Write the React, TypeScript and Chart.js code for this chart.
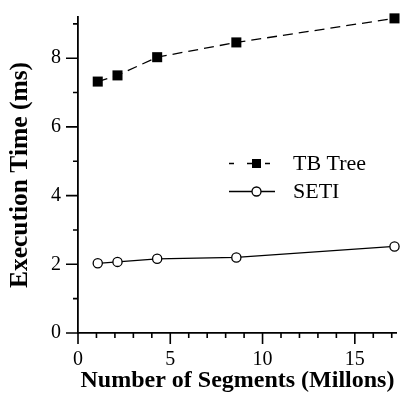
import { useEffect, useRef } from "react";
import { Chart, registerables } from "chart.js";

Chart.register(...registerables);

// Data: execution time vs. number of segments
const segmentsMillions = [1.07, 2.14, 4.29, 8.58, 17.15];
const tbTreeMs = [7.32, 7.5, 8.03, 8.46, 9.16];
const setiMs = [2.03, 2.07, 2.16, 2.2, 2.52];

const xLabelTicks = [0, 5, 10, 15];
const xMinorTicks = [1, 2, 3, 4, 6, 7, 8, 9, 11, 12, 13, 14, 16, 17];
const yLabelTicks = [0, 2, 4, 6, 8];
const yMinorTicks = [1, 3, 5, 7, 9];

const seriesNames = ["TB Tree", "SETI"];

const FONT = "'Liberation Serif', 'Times New Roman', Times, serif";
const INK = "#000";

// Outward tick marks: long at labelled values, short in between
const tickMarksPlugin = {
  id: "tickMarks",
  afterDraw(chart: any) {
    const ctx = chart.ctx;
    const x = chart.scales.x;
    const y = chart.scales.y;
    const area = chart.chartArea;
    ctx.save();
    ctx.strokeStyle = INK;
    ctx.lineWidth = 1.6;
    ctx.beginPath();
    for (const v of xLabelTicks) {
      const px = x.getPixelForValue(v);
      ctx.moveTo(px, area.bottom);
      ctx.lineTo(px, area.bottom + 11);
    }
    for (const v of xMinorTicks) {
      const px = x.getPixelForValue(v);
      ctx.moveTo(px, area.bottom);
      ctx.lineTo(px, area.bottom + 5);
    }
    for (const v of yLabelTicks) {
      const py = y.getPixelForValue(v);
      ctx.moveTo(area.left, py);
      ctx.lineTo(area.left - 12, py);
    }
    for (const v of yMinorTicks) {
      const py = y.getPixelForValue(v);
      ctx.moveTo(area.left, py);
      ctx.lineTo(area.left - 5, py);
    }
    ctx.stroke();
    ctx.restore();
  },
};

// Legend drawn inside the plot: line sample with marker, then the name
const inlineLegendPlugin = {
  id: "inlineLegend",
  afterDraw(chart: any) {
    const ctx = chart.ctx;
    const rows = [
      { y: 163.5, dash: [5, 13], square: true },
      { y: 191.5, dash: [], square: false },
    ];
    const x0 = 229;
    const x1 = 275;
    const mid = 256.5;
    ctx.save();
    rows.forEach((row, i) => {
      ctx.strokeStyle = INK;
      ctx.lineWidth = 1.3;
      ctx.setLineDash(row.dash);
      ctx.beginPath();
      ctx.moveTo(x0, row.y);
      ctx.lineTo(x1, row.y);
      ctx.stroke();
      ctx.setLineDash([]);
      if (row.square) {
        ctx.fillStyle = INK;
        ctx.fillRect(mid - 4.5, row.y - 4.5, 9, 9);
      } else {
        ctx.fillStyle = "#fff";
        ctx.beginPath();
        ctx.arc(mid, row.y, 4.5, 0, Math.PI * 2);
        ctx.fill();
        ctx.stroke();
      }
      ctx.fillStyle = INK;
      ctx.font = `22px ${FONT}`;
      ctx.textAlign = "left";
      ctx.textBaseline = "middle";
      ctx.fillText(seriesNames[i], 293, row.y + 1);
    });
    ctx.restore();
  },
};

export default function App() {
  const canvasRef = useRef<HTMLCanvasElement | null>(null);

  useEffect(() => {
    const canvas = canvasRef.current;
    if (!canvas) return;
    const chart = new Chart(canvas, {
      type: "scatter",
      data: {
        datasets: [
          {
            label: seriesNames[0],
            data: segmentsMillions.map((x, i) => ({ x, y: tbTreeMs[i] })),
            showLine: true,
            borderColor: INK,
            borderWidth: 1.3,
            borderDash: [10, 6],
            pointStyle: "rect",
            pointRadius: 7.1,
            pointBackgroundColor: INK,
            pointBorderColor: INK,
            pointBorderWidth: 0,
            clip: false as any,
          },
          {
            label: seriesNames[1],
            data: segmentsMillions.map((x, i) => ({ x, y: setiMs[i] })),
            showLine: true,
            borderColor: INK,
            borderWidth: 1.3,
            pointStyle: "circle",
            pointRadius: 4.6,
            pointBackgroundColor: "#fff",
            pointBorderColor: INK,
            pointBorderWidth: 1.3,
            clip: false as any,
          },
        ],
      },
      options: {
        animation: false,
        responsive: false,
        devicePixelRatio: 1,
        layout: { padding: { top: 8, right: 0, left: 0, bottom: 0 } },
        plugins: {
          legend: { display: false },
          tooltip: { enabled: false },
        },
        scales: {
          x: {
            type: "linear",
            min: 0,
            max: 17.28,
            afterBuildTicks: (s: any) => {
              s.ticks = xLabelTicks.map((value) => ({ value }));
            },
            afterFit: (s: any) => {
              s.height = 72;
            },
            grid: {
              display: true,
              drawOnChartArea: false,
              drawTicks: true,
              tickLength: 11,
              tickColor: "rgba(0,0,0,0)",
            },
            border: { display: true, color: INK, width: 1.8 },
            ticks: {
              color: INK,
              font: { family: FONT, size: 20 },
              padding: 4,
              maxRotation: 0,
            },
            title: {
              display: true,
              text: "Number of Segments (Millons)",
              color: INK,
              font: { family: FONT, size: 24, weight: "bold" },
              padding: { top: 0, bottom: 10 },
            },
          },
          y: {
            type: "linear",
            min: 0,
            max: 9.2,
            afterBuildTicks: (s: any) => {
              s.ticks = yLabelTicks.map((value) => ({ value }));
            },
            afterFit: (s: any) => {
              s.width = 78;
            },
            grid: {
              display: true,
              drawOnChartArea: false,
              drawTicks: true,
              tickLength: 12,
              tickColor: "rgba(0,0,0,0)",
            },
            border: { display: true, color: INK, width: 1.8 },
            ticks: {
              color: INK,
              font: { family: FONT, size: 20 },
              padding: 5,
            },
            title: {
              display: true,
              text: "Execution Time (ms)",
              color: INK,
              font: { family: FONT, size: 25.5, weight: "bold" },
              padding: { top: 5, bottom: 0 },
            },
          },
        },
      },
      plugins: [tickMarksPlugin, inlineLegendPlugin],
    });
    return () => chart.destroy();
  }, []);

  return (
    <div style={{ position: "fixed", left: 0, top: 0, width: 404, height: 405, background: "#fff" }}>
      <canvas ref={canvasRef} width={404} height={405} style={{ display: "block" }} />
    </div>
  );
}
